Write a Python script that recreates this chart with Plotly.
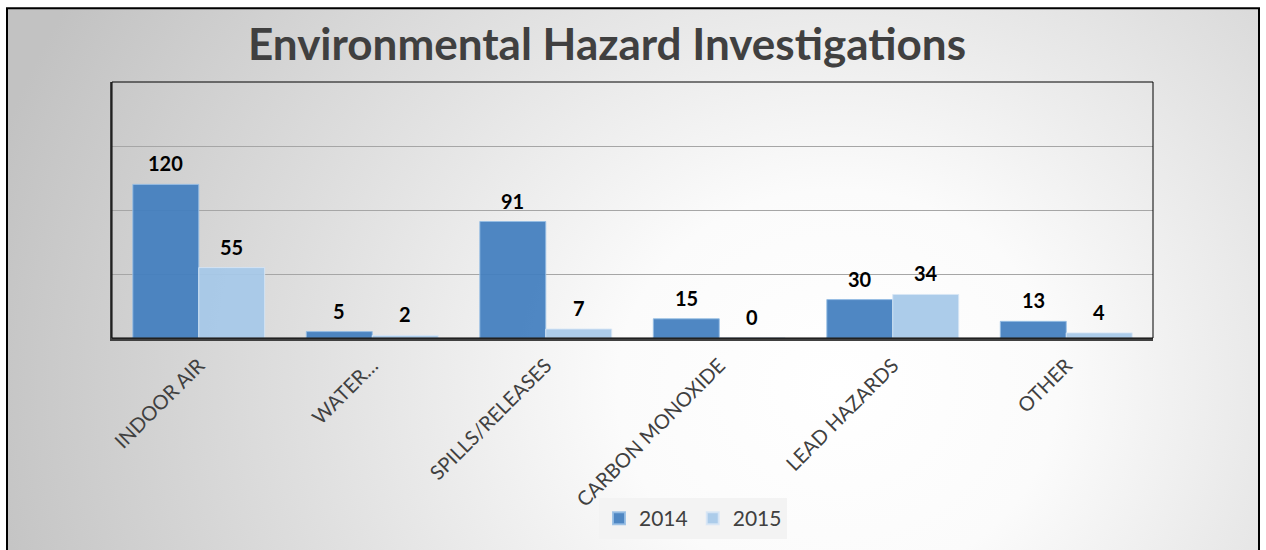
import base64
import plotly.graph_objects as go

categories = ["INDOOR AIR", "WATER…", "SPILLS/RELEASES", "CARBON MONOXIDE", "LEAD HAZARDS", "OTHER"]
series_names = ["2014", "2015"]
values_2014 = [120, 5, 91, 15, 30, 13]
values_2015 = [55, 2, 7, 0, 34, 4]
y_ticks = [0, 50, 100, 150, 200]

W, H = 1266, 550
ML, MR, MT, MB = 112, 113, 82, 211
PW, PH = W - ML - MR, H - MT - MB
BARGAP = 0.24

def px_x(p):
    return (p - ML) / PW

def px_y(p):
    return (H - MB - p) / PH

# background radial gradient (svg data uri)
FX0, FY0, FX1, FY1 = 7, 8, 1259, 556
gw, gh = FX1 - FX0, FY1 - FY0
svg = (
    f'<svg xmlns="http://www.w3.org/2000/svg" width="{gw}" height="{gh}" viewBox="0 0 {gw} {gh}" preserveAspectRatio="none">'
    '<defs><radialGradient id="g" gradientUnits="userSpaceOnUse" cx="830" cy="380" r="880" '
    'gradientTransform="translate(830 380) scale(1 0.9) translate(-830 -380)">'
    '<stop offset="0" stop-color="#ffffff"/><stop offset="0.25" stop-color="#fbfbfb"/>'
    '<stop offset="0.6" stop-color="#e0e0e0"/><stop offset="1" stop-color="#c2c2c2"/></radialGradient></defs>'
    f'<rect x="0" y="0" width="{gw}" height="{gh}" fill="url(#g)"/></svg>'
)
svg_uri = "data:image/svg+xml;base64," + base64.b64encode(svg.encode()).decode()

colors = ["rgba(66,126,190,0.93)", "rgba(166,200,232,0.93)"]
line_colors = ["rgba(150,190,228,0.9)", "rgba(215,230,245,0.9)"]

fig = go.Figure()
for name, vals, c, lc in zip(series_names, [values_2014, values_2015], colors, line_colors):
    fig.add_trace(go.Bar(
        x=categories, y=vals, name=name,
        marker=dict(color=c, line=dict(color=lc, width=1)),
    ))

# data labels
bar_w = PW / len(categories) * (1 - BARGAP) / 2
annotations = []
for i, vals in enumerate([values_2014, values_2015]):
    shift = (i - 0.5) * bar_w
    for cat, v in zip(categories, vals):
        annotations.append(dict(
            x=cat, y=v, xref="x", yref="y", text=str(v), showarrow=False,
            xshift=shift, yshift=21, yanchor="middle",
            font=dict(family="Lato", size=20, color="#000000", weight="bold"),
        ))

fig.update_layout(
    width=W, height=H,
    margin=dict(l=ML, r=MR, t=MT, b=MB, pad=0),
    paper_bgcolor="#ffffff",
    plot_bgcolor="rgba(0,0,0,0)",
    barmode="group", bargap=BARGAP, bargroupgap=0,
    title=dict(
        text="<b>Environmental Hazard Investigations</b>",
        x=607 / W, xanchor="center", y=1 - 45 / H, yanchor="middle", yref="container",
        font=dict(family="Lato", size=44, color="#404040"),
    ),
    xaxis=dict(
        showgrid=False, showline=True, linecolor="#404040", linewidth=3,
        tickangle=-45, ticks="outside", ticklen=5, tickcolor="rgba(0,0,0,0)",
        tickfont=dict(family="Lato", size=20, color="#404040"),
    ),
    yaxis=dict(
        range=[0, 200], tickvals=y_ticks, showticklabels=False, ticks="",
        showgrid=True, gridcolor="#a6a6a6", gridwidth=1,
        showline=True, linecolor="#404040", linewidth=2, zeroline=False,
    ),
    legend=dict(
        orientation="h", x=px_x(693), xanchor="center", y=px_y(498), yanchor="top",
        bgcolor="#f3f3f3", font=dict(family="Lato", size=21, color="#404040"),
        itemsizing="constant", traceorder="normal",
    ),
    annotations=annotations,
    images=[dict(
        source=svg_uri, xref="paper", yref="paper",
        x=px_x(FX0), y=px_y(FY0), sizex=gw / PW, sizey=gh / PH,
        sizing="stretch", xanchor="left", yanchor="top", layer="below",
    )],
    shapes=[
        dict(type="rect", xref="paper", yref="paper", x0=0, x1=1, y0=0, y1=1,
             line=dict(color="#000000", width=1), layer="above"),
        dict(type="rect", xref="paper", yref="paper",
             x0=px_x(FX0), x1=px_x(FX1), y0=px_y(FY1), y1=px_y(FY0),
             line=dict(color="#000000", width=2), layer="above"),
    ],
)

fig.write_html(
    "out.html",
    config={"displayModeBar": False},
    post_script="document.body.style.margin='0';document.body.style.overflow='hidden';",
)
